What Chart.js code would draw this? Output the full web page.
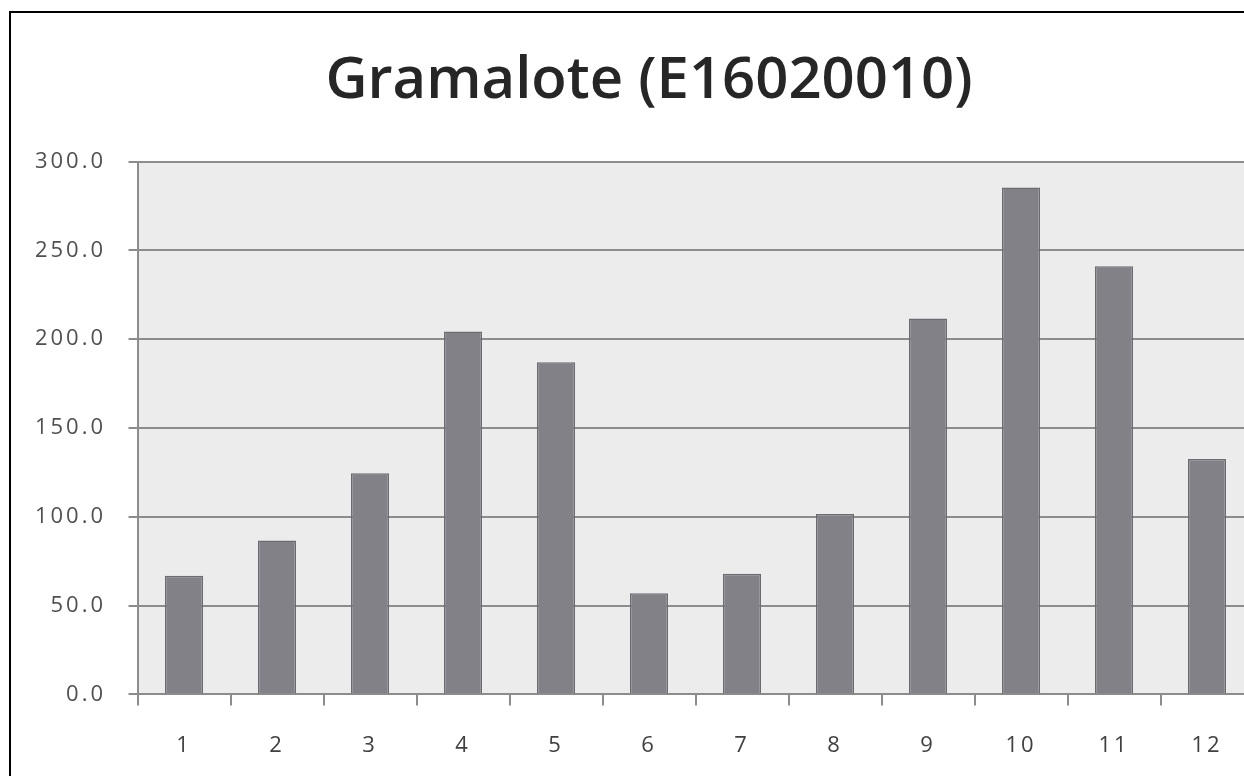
<!DOCTYPE html>
<html>
<head>
<meta charset="utf-8">
<script src="https://cdn.jsdelivr.net/npm/chart.js@4/dist/chart.umd.min.js"></script>
<style>
  html, body { margin: 0; padding: 0; background: #fff; overflow: hidden; width: 1244px; height: 776px; }
  #frame { position: absolute; left: 9px; top: 11px; width: 1320px; height: 840px; border: 2px solid #000; box-sizing: border-box; }
  #wrap { position: absolute; left: 0; top: 0; width: 1300px; height: 800px; }
</style>
</head>
<body>
<div id="frame"></div>
<div id="wrap"><canvas id="chart" width="1300" height="800"></canvas></div>
<script>
// Monthly values, station Gramalote
const chartTitle = 'Gramalote (E16020010)';
const months = ['1', '2', '3', '4', '5', '6', '7', '8', '9', '10', '11', '12'];
const monthlyValues = [66.8, 86.7, 124.5, 204.3, 187.0, 57.0, 67.9, 101.5, 211.6, 285.3, 241.1, 132.5];
const yTickValues = [0, 50, 100, 150, 200, 250, 300];

// Tick labels with a little extra letter spacing, not clipped to the axis box
const LABEL_SPACING = '3px';
class SpacedLinearScale extends Chart.LinearScale {
  _computeLabelArea() { return undefined; }
  drawLabels(area) {
    const ctx = this.ctx;
    const prev = ctx.letterSpacing;
    ctx.letterSpacing = LABEL_SPACING;
    super.drawLabels(area);
    ctx.letterSpacing = prev;
  }
}
SpacedLinearScale.id = 'spacedLinear';
class SpacedCategoryScale extends Chart.CategoryScale {
  _computeLabelArea() { return undefined; }
  drawLabels(area) {
    const ctx = this.ctx;
    const prev = ctx.letterSpacing;
    ctx.letterSpacing = LABEL_SPACING;
    super.drawLabels(area);
    ctx.letterSpacing = prev;
  }
}
SpacedCategoryScale.id = 'spacedCategory';
Chart.register(SpacedLinearScale, SpacedCategoryScale);

// Grey plot background
const plotBackground = {
  id: 'plotBackground',
  beforeDraw(chart) {
    const { ctx, chartArea: a } = chart;
    ctx.save();
    ctx.fillStyle = '#ececec';
    ctx.fillRect(a.left, a.top, a.right - a.left, a.bottom - a.top);
    ctx.restore();
  }
};

const axisGrey = '#8c8c8c';

new Chart(document.getElementById('chart'), {
  type: 'bar',
  data: {
    labels: months,
    datasets: [{
      data: monthlyValues,
      backgroundColor: '#828187',
      borderColor: '#6c6b71',
      borderWidth: 1.5,
      categoryPercentage: 1,
      barPercentage: 0.41
    }]
  },
  options: {
    responsive: false,
    animation: false,
    layout: { padding: { left: 44.5, right: 46.5, top: 0, bottom: 25.6 } },
    plugins: {
      legend: { display: false },
      tooltip: { enabled: false },
      title: {
        display: true,
        text: chartTitle,
        color: '#262626',
        font: { family: '"Open Sans", "Liberation Sans", sans-serif', size: 58, weight: '600', lineHeight: 1.2 },
        padding: { top: 47, bottom: 44.9 }
      }
    },
    scales: {
      x: {
        type: 'spacedCategory',
        grid: { display: true, drawOnChartArea: false, drawTicks: true, tickLength: 11, color: axisGrey, lineWidth: 2, offset: true },
        border: { display: true, color: axisGrey, width: 2 },
        ticks: {
          color: '#404040',
          padding: 27,
          maxRotation: 0,
          font: { family: '"Open Sans", sans-serif', size: 22 }
        },
        afterFit(scale) { scale.height = 80; }
      },
      y: {
        type: 'spacedLinear',
        min: 0,
        max: 300,
        afterBuildTicks(scale) { scale.ticks = yTickValues.map(v => ({ value: v })); },
        grid: { color: axisGrey, lineWidth: 2, drawTicks: true, tickLength: 9 },
        border: { display: true, color: axisGrey, width: 2 },
        ticks: {
          color: '#505050',
          padding: 22.5,
          font: { family: '"Open Sans", sans-serif', size: 22 },
          callback: (v) => Number(v).toFixed(1)
        },
        afterFit(scale) { scale.width = 93; }
      }
    }
  },
  plugins: [plotBackground]
});
</script>
</body>
</html>
